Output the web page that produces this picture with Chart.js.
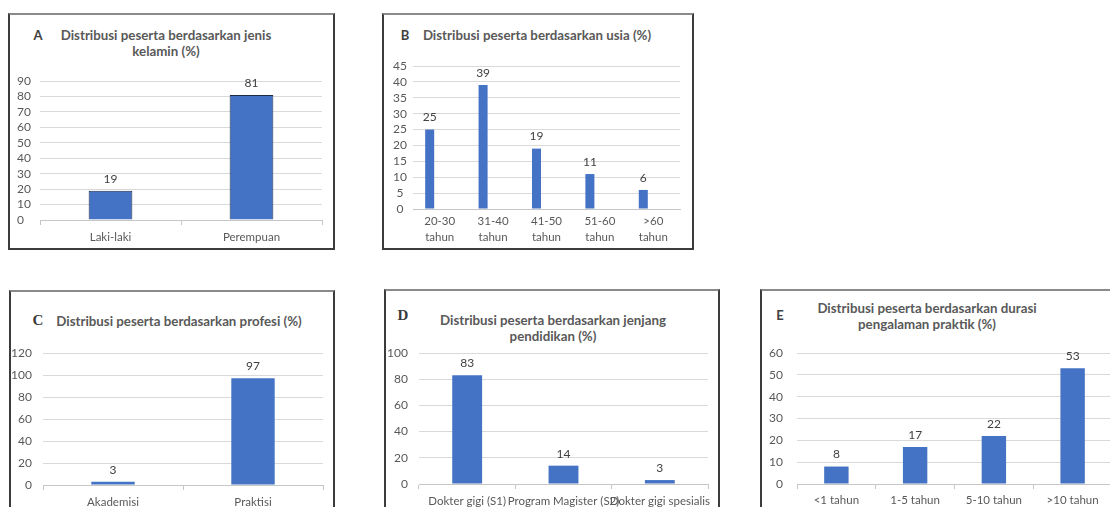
<!DOCTYPE html>
<html>
<head>
<meta charset="utf-8">
<title>Distribusi peserta</title>
<script src="https://cdn.jsdelivr.net/npm/chart.js@4.4.1/dist/chart.umd.min.js"></script>
<style>
  html, body { margin: 0; padding: 0; background: #fff; }
  body { width: 1110px; height: 507px; overflow: hidden; position: relative; font-family: Lato, 'Open Sans', sans-serif; }
  .panel { position: absolute; box-sizing: border-box; border: 2px solid #3c3c3c; border-top-color: #8a8a8a; background: #fff; }
  canvas { position: absolute; }
  .ttl { position: absolute; transform: translate(-50%, -50%); text-align: center; font-weight: bold; font-size: 13.3px; line-height: 16px; color: #595959; white-space: nowrap; }
  .tag { position: absolute; transform: translate(-50%, -50%); font-weight: bold; font-size: 13px; color: #404040; }
  .serif { font-family: 'Liberation Serif', 'DejaVu Serif', serif; font-size: 15px; color: #3a3a3a; }
</style>
</head>
<body>

<div class="panel" style="left:8px;top:13px;width:327px;height:237px"></div>
<div class="panel" style="left:382px;top:13px;width:312px;height:237px"></div>
<div class="panel" style="left:9px;top:290px;width:326px;height:240px"></div>
<div class="panel" style="left:384px;top:289px;width:336px;height:240px"></div>
<div class="panel" style="left:760px;top:289px;width:380px;height:240px"></div>

<div class="tag" style="left:38px;top:35px">A</div>
<div class="ttl" style="left:166px;top:43px">Distribusi peserta berdasarkan jenis<br>kelamin (%)</div>

<div class="tag" style="left:405px;top:35px">B</div>
<div class="ttl" style="left:537px;top:35px">Distribusi peserta berdasarkan usia (%)</div>

<div class="tag serif" style="left:38px;top:320px">C</div>
<div class="ttl" style="left:179px;top:321px">Distribusi peserta berdasarkan profesi (%)</div>

<div class="tag serif" style="left:403px;top:315px">D</div>
<div class="ttl" style="left:553px;top:328px">Distribusi peserta berdasarkan jenjang<br>pendidikan (%)</div>

<div class="tag" style="left:780px;top:315px">E</div>
<div class="ttl" style="left:927px;top:316px">Distribusi peserta berdasarkan durasi<br>pengalaman praktik (%)</div>

<canvas id="chartA"></canvas>
<canvas id="chartB"></canvas>
<canvas id="chartC"></canvas>
<canvas id="chartD"></canvas>
<canvas id="chartE"></canvas>

<script>
// ---- data ----
const genderLabels = ['Laki-laki', 'Perempuan'];
const genderValues = [19, 81];
const genderAxis = [0, 90, 10];          // min, max, step

const ageLabels = [['20-30', 'tahun'], ['31-40', 'tahun'], ['41-50', 'tahun'], ['51-60', 'tahun'], ['>60', 'tahun']];
const ageValues = [25, 39, 19, 11, 6];
const ageAxis = [0, 45, 5];

const professionLabels = ['Akademisi', 'Praktisi'];
const professionValues = [3, 97];
const professionAxis = [0, 120, 20];

const educationLabels = ['Dokter gigi (S1)', 'Program Magister (S2)', 'Dokter gigi spesialis'];
const educationValues = [83, 14, 3];
const educationAxis = [0, 100, 20];

const experienceLabels = ['<1 tahun', '1-5 tahun', '5-10 tahun', '>10 tahun'];
const experienceValues = [8, 17, 22, 53];
const experienceAxis = [0, 60, 10];

// ---- styling ----
const FONT = 'Lato, "Open Sans", sans-serif';
const BLUE = '#4472c4';
const TEXT = '#595959';
const GRID = '#d9d9d9';
const AXIS = '#c6c6c6';

// value labels above each bar
const valueLabels = {
  id: 'valueLabels',
  afterDatasetsDraw(chart) {
    const ctx = chart.ctx;
    ctx.save();
    ctx.font = '12px ' + FONT;
    ctx.fillStyle = '#404040';
    ctx.textAlign = 'center';
    ctx.textBaseline = 'middle';
    chart.data.datasets.forEach((ds, i) => {
      chart.getDatasetMeta(i).data.forEach((bar, j) => {
        const v = ds.data[j];
        if (v === null || v === undefined) return;
        ctx.fillText(String(v), bar.x, bar.y - 12);
      });
    });
    ctx.restore();
  }
};

// box: canvas rectangle on the page; plot: chart area on the page
function drawPanel(id, box, plot, o) {
  const cv = document.getElementById(id);
  cv.style.left = box.x + 'px';
  cv.style.top = box.y + 'px';
  cv.width = box.w;
  cv.height = box.h;
  const yw = o.yWidth;
  const xh = o.xHeight;
  const padding = {
    left: plot.l - yw - box.x,
    top: plot.t - box.y,
    right: box.x + box.w - plot.r,
    bottom: box.y + box.h - plot.b - xh
  };
  const [ymin, ymax, ystep] = o.axis;
  new Chart(cv, {
    type: 'bar',
    data: { labels: o.labels, datasets: o.datasets },
    options: {
      responsive: false,
      animation: false,
      devicePixelRatio: 1,
      layout: { padding },
      plugins: { legend: { display: false }, title: { display: false }, tooltip: { enabled: false } },
      datasets: { bar: { categoryPercentage: o.catPct, barPercentage: o.barPct } },
      scales: {
        x: {
          offset: true,
          grid: { display: o.xTicks, offset: true, drawOnChartArea: false, drawTicks: o.xTicks, tickLength: 5, color: AXIS },
          border: { display: true, color: AXIS, width: 1 },
          ticks: { color: TEXT, font: { family: FONT, size: 11.5, lineHeight: o.xLine }, padding: o.xPad,
                   autoSkip: false, maxRotation: 0, minRotation: 0 },
          afterFit(s) { s.height = xh; }
        },
        y: {
          min: ymin, max: ymax,
          grid: { color: GRID, drawTicks: false },
          border: { display: false },
          ticks: { stepSize: ystep, autoSkip: false, color: TEXT, font: { family: FONT, size: 12 }, padding: o.yPad, crossAlign: o.yAlign },
          afterFit(s) { s.width = yw; }
        }
      }
    },
    plugins: [valueLabels]
  });
}

// A: jenis kelamin
drawPanel('chartA', { x: 10, y: 15, w: 323, h: 233 }, { l: 40, t: 81, r: 322, b: 220 }, {
  labels: genderLabels,
  datasets: [{ data: genderValues, backgroundColor: BLUE, borderColor: '#1c2c4c', borderWidth: 1 }],
  axis: genderAxis, yWidth: 23, xHeight: 24, yPad: 3, yAlign: 'far',
  xTicks: true, xPad: 5, xLine: 1.3, catPct: 1, barPct: 0.31
});

// B: usia (second, empty series keeps the bars to the left of each category)
drawPanel('chartB', { x: 384, y: 15, w: 308, h: 233 }, { l: 413, t: 66, r: 680, b: 209 }, {
  labels: ageLabels,
  datasets: [
    { data: ageValues, backgroundColor: BLUE },
    { data: ageLabels.map(() => null), backgroundColor: BLUE }
  ],
  axis: ageAxis, yWidth: 29, xHeight: 36, yPad: 6, yAlign: 'center',
  xTicks: false, xPad: 4, xLine: 1.4, catPct: 0.75, barPct: 0.45
});

// C: profesi
drawPanel('chartC', { x: 11, y: 292, w: 322, h: 236 }, { l: 43, t: 353, r: 323, b: 485 }, {
  labels: professionLabels,
  datasets: [{ data: professionValues, backgroundColor: BLUE }],
  axis: professionAxis, yWidth: 32, xHeight: 24, yPad: 11, yAlign: 'near',
  xTicks: true, xPad: 5, xLine: 1.3, catPct: 1, barPct: 0.31
});

// D: jenjang pendidikan
drawPanel('chartD', { x: 386, y: 291, w: 332, h: 236 }, { l: 419, t: 353, r: 708, b: 484 }, {
  labels: educationLabels,
  datasets: [{ data: educationValues, backgroundColor: BLUE }],
  axis: educationAxis, yWidth: 33, xHeight: 24, yPad: 11, yAlign: 'near',
  xTicks: true, xPad: 5, xLine: 1.3, catPct: 1, barPct: 0.31
});

// E: durasi pengalaman praktik
drawPanel('chartE', { x: 762, y: 291, w: 376, h: 236 }, { l: 797, t: 353, r: 1112, b: 484 }, {
  labels: experienceLabels,
  datasets: [{ data: experienceValues, backgroundColor: BLUE }],
  axis: experienceAxis, yWidth: 35, xHeight: 24, yPad: 14, yAlign: 'near',
  xTicks: true, xPad: 4, xLine: 1.3, catPct: 1, barPct: 0.31
});
</script>
</body>
</html>
